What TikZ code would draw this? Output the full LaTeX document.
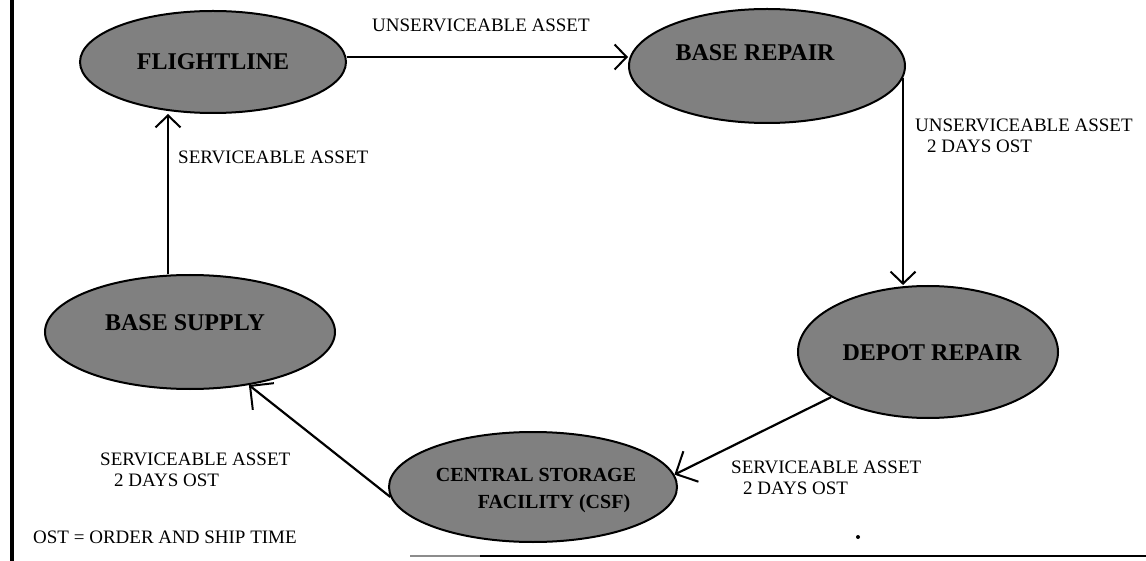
\documentclass[tikz,border=0pt]{standalone}
\usepackage{fontspec}
\setmainfont{Liberation Serif}
\usetikzlibrary{shapes.geometric,arrows.meta,calc}
\tikzset{
  ell/.style={ellipse, draw, line width=2pt, fill=black!50, inner sep=0pt},
  etext/.style={font=\fontsize{24}{26}\selectfont\bfseries, inner sep=0pt, align=center},
  lbl/.style={font=\fontsize{19}{21}\selectfont, inner sep=0pt, align=left},
  arr/.style={-{Straight Barb[length=12pt,width=25pt,line width=2pt]}, line width=2.2pt},
  bigarr/.style={-{Straight Barb[length=17pt,width=34pt,line width=2pt]}, line width=2.2pt}
}
\begin{document}
\begin{tikzpicture}[x=1pt,y=-1pt]
\useasboundingbox (0,0) rectangle (1146,561);
\fill[white] (0,0) rectangle (1146,561);
% border
\draw[line width=3.5pt] (12,0) -- (12,561);
\draw[line width=2.5pt, black!45] (410,556) -- (480,556);
\draw[line width=2.5pt] (480,556) -- (1146,556);
\fill (858,537) circle (2pt);

% ellipses
\node[ell, minimum width=266pt, minimum height=102pt] (FL) at (213,62) {};
\node[ell, minimum width=276pt, minimum height=114pt] (BR) at (767,66) {};
\node[ell, minimum width=260pt, minimum height=132pt] (DR) at (928,352) {};
\node[ell, minimum width=290pt, minimum height=114pt] (BS) at (190,332) {};
\node[ell, minimum width=288pt, minimum height=110pt] (CSF) at (533,487) {};

\node[etext] (FLt) at (213,62) {FLIGHTLINE};
\node[etext] (BRt) at (755,53) {BASE REPAIR};
\node[etext] (DRt) at (932,353) {DEPOT REPAIR};
\node[etext] (BSt) at (185,323) {BASE SUPPLY};
\node[etext, font=\fontsize{20}{27}\selectfont\bfseries] (CSFt) at (536,491) {CENTRAL STORAGE\\\hspace*{36pt}FACILITY (CSF)};

% connectors
\coordinate (h) at (0,57);
\coordinate (u) at (168,0);
\draw[arr] (FL.east |- h) -- (BR.west |- h);
\draw[arr] (BR.-5) -- (BR.-5 |- DR.north);
\draw[bigarr] (DR.205) -- (CSF.5);
\draw[bigarr] (CSF.184) -- (BS.318);
\draw[arr] (u |- BS.north) -- (u |- FL.south);

% labels
\node[lbl, anchor=base west] (l1) at (372,32) {UNSERVICEABLE ASSET};
\node[lbl, anchor=base west] (l2) at (178,164) {SERVICEABLE ASSET};
\node[lbl, anchor=north west] (l3) at (915,118.5) {UNSERVICEABLE ASSET\\\hspace*{12pt}2 DAYS OST};
\node[lbl, anchor=north west] (l4) at (100,452.5) {SERVICEABLE ASSET\\\hspace*{14pt}2 DAYS OST};
\node[lbl, anchor=north west] (l5) at (731,460.5) {SERVICEABLE ASSET\\\hspace*{12pt}2 DAYS OST};
\node[lbl, anchor=base west] (l6) at (33,543) {OST = ORDER AND SHIP TIME};
\end{tikzpicture}
\end{document}
